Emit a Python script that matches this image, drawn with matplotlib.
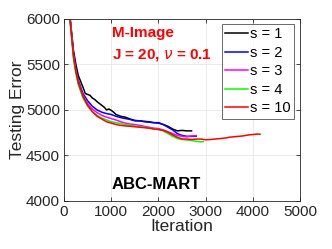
import matplotlib.pyplot as plt
import numpy as np

plt.rcParams['font.family'] = ['Liberation Sans', 'DejaVu Sans']

it_s1 = [100, 150, 200, 250, 300, 400, 450, 500, 550, 600, 650, 700, 750, 800, 850, 900, 950,
         1000, 1050, 1100, 1200, 1300, 1400, 1500, 1600, 1700, 1800, 1900, 2000, 2100, 2200,
         2300, 2400, 2500, 2600, 2700]
err_s1 = [6150, 5900, 5650, 5500, 5380, 5250, 5180, 5170, 5160, 5130, 5115, 5090, 5070, 5050,
          5030, 5000, 5010, 4995, 4975, 4950, 4930, 4920, 4900, 4885, 4880, 4875, 4870, 4860,
          4860, 4840, 4820, 4790, 4770, 4775, 4770, 4770]

it_s2 = [100, 150, 200, 250, 300, 400, 500, 600, 700, 800, 900, 1000, 1100, 1200, 1300, 1400,
         1500, 1600, 1700, 1800, 1900, 2000, 2100, 2200, 2300, 2400, 2500, 2600, 2700, 2800]
err_s2 = [6150, 5880, 5620, 5450, 5330, 5180, 5100, 5040, 5000, 4975, 4960, 4950, 4930, 4915,
          4905, 4895, 4880, 4880, 4870, 4865, 4860, 4855, 4840, 4810, 4780, 4740, 4720, 4710,
          4710, 4712]

it_s3 = it_s2
err_s3 = [6150, 5870, 5600, 5430, 5310, 5160, 5070, 5010, 4970, 4940, 4920, 4905, 4890, 4870,
          4855, 4845, 4840, 4830, 4820, 4810, 4800, 4795, 4780, 4760, 4740, 4720, 4710, 4705,
          4715, 4718]

it_s4 = it_s2 + [2900, 2950]
err_s4 = [6150, 5850, 5570, 5400, 5280, 5130, 5040, 4980, 4940, 4910, 4890, 4870, 4860, 4850,
          4840, 4830, 4825, 4815, 4810, 4800, 4795, 4785, 4770, 4740, 4710, 4685, 4675, 4670,
          4665, 4655, 4650, 4652]

it_s10 = it_s2 + [2900, 3000, 3100, 3200, 3300, 3400, 3500, 3600, 3700, 3800, 3900, 4000,
                  4100, 4150]
err_s10 = [6150, 5860, 5580, 5420, 5300, 5150, 5050, 4980, 4930, 4900, 4870, 4855, 4840, 4830,
           4825, 4820, 4815, 4810, 4805, 4800, 4790, 4785, 4775, 4755, 4725, 4700, 4680, 4680,
           4675, 4680, 4680, 4672, 4675, 4680, 4685, 4690, 4700, 4705, 4710, 4715, 4725, 4730,
           4735, 4733]

fig = plt.figure(figsize=(3.32, 2.49), dpi=100)
ax = fig.add_axes([0.193, 0.193, 0.711, 0.731])

ax.plot(it_s1, err_s1, color='black', lw=1.1, label='s = 1')
ax.plot(it_s2, err_s2, color='blue', lw=1.1, label='s = 2')
ax.plot(it_s3, err_s3, color='magenta', lw=1.1, label='s = 3')
ax.plot(it_s4, err_s4, color='lime', lw=1.1, label='s = 4')
ax.plot(it_s10, err_s10, color='red', lw=1.1, label='s = 10')

ax.set_xlim(0, 5000)
ax.set_ylim(4000, 6000)
ax.set_xticks([0, 1000, 2000, 3000, 4000, 5000])
ax.set_yticks([4000, 4500, 5000, 5500, 6000])
ax.grid(color='#e6e6e6', lw=0.6)
ax.set_axisbelow(True)
ax.tick_params(direction='in', top=True, right=True, labelsize=11, length=3, width=0.6,
               colors='#262626', pad=3)
for sp in ax.spines.values():
    sp.set_color('#262626')
    sp.set_linewidth(0.6)
ax.set_xlabel('Iteration', fontsize=12.5, color='#262626', labelpad=0)
ax.set_ylabel('Testing Error', fontsize=12.5, color='#262626', labelpad=1)

ax.text(0.203, 0.923, 'M-Image', transform=ax.transAxes, color='red', fontsize=11,
        fontweight='bold', va='center')
ax.text(0.203, 0.80, r'J = 20, $\nu$ = 0.1', transform=ax.transAxes, color='red', fontsize=11,
        fontweight='bold', va='center')
ax.text(0.203, 0.093, 'ABC-MART', transform=ax.transAxes, color='black', fontsize=12,
        fontweight='bold', va='center')

leg = ax.legend(loc='upper right', bbox_to_anchor=(0.975, 0.973), fontsize=10.5, frameon=True,
                fancybox=False, edgecolor='#262626', handlelength=1.6, handletextpad=0.1,
                borderpad=0.25, labelspacing=0.3, borderaxespad=0)
leg.get_frame().set_linewidth(0.6)

fig.savefig('out.png', dpi=100)
